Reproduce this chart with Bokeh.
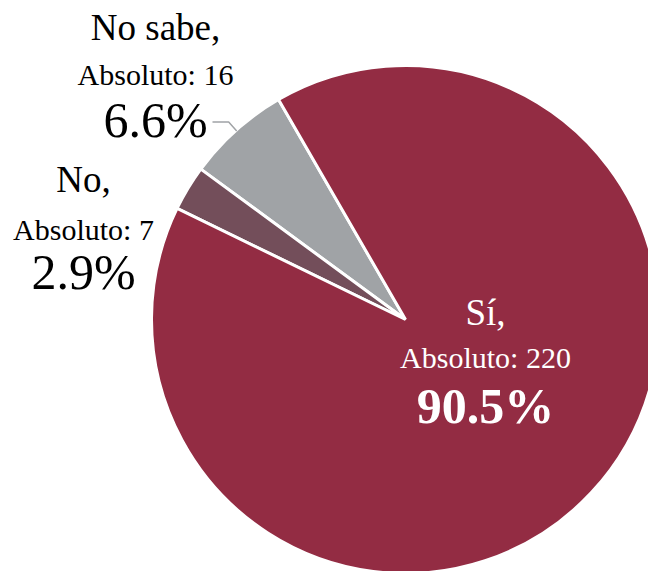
import numpy as np
from bokeh.plotting import figure
from bokeh.models import Range1d
from bokeh.embed import file_html
from bokeh.resources import INLINE
from bokeh.core.properties import value

# ---- data ----
categories = ["No sabe", "No", "Sí"]
counts = [16, 7, 220]
colors = ["#A0A3A6", "#734E5A", "#932C43"]
label_colors = ["#000000", "#000000", "#FFFFFF"]

W, H = 648, 571
FONT = "Liberation Serif"


def px(x):
    return x


def py(y):
    return H - y


total = sum(counts)
fracs = [c / total for c in counts]
start0 = np.deg2rad(120)
ends = start0 + 2 * np.pi * np.cumsum(fracs)
starts = np.concatenate([[start0], ends[:-1]])

cx, cy = px(405), py(319)
R = 254

p = figure(width=W, height=H, x_range=Range1d(0, W), y_range=Range1d(0, H),
           toolbar_location=None, output_backend="svg", min_border=0,
           x_axis_location=None, y_axis_location=None,
           outline_line_color=None, background_fill_color="white")
p.grid.visible = False

p.wedge(x=cx, y=cy, radius=R, start_angle=list(starts), end_angle=list(ends),
        fill_color=colors, line_color="white", line_width=3)

# leader line for "No sabe"
mid = (starts[0] + ends[0]) / 2
ex, ey = cx + (R - 1) * np.cos(mid), cy + (R - 1) * np.sin(mid)
bx, by = cx + 265 * np.cos(mid), cy + 265 * np.sin(mid)
p.line(x=[ex, bx, px(212)], y=[ey, by, by], line_color="#A0A3A6", line_width=1.5)

# label layout (page coordinates): x centre, baselines of text lines
label_x = [155, 83, 485]
label_y = [(37, 82, 133), (189, 237, 285), (322, 365, 419)]
sizes = (37, 30, 50)
SHIFT = 0.27

for i, cat in enumerate(categories):
    x = px(label_x[i])
    y1, y2, y3 = label_y[i]
    col = label_colors[i]
    pct = f"{100 * counts[i] / total:.1f}%"
    p.text(x=[x], y=[py(y1 - SHIFT * sizes[0])], text=[cat + ","], text_font=value(FONT),
           text_font_size=f"{sizes[0]}px", text_color=col, text_align="center",
           text_baseline="alphabetic")
    p.text(x=[x], y=[py(y2 - SHIFT * sizes[1])], text=[f"Absoluto: {counts[i]}"],
           text_font=value(FONT),
           text_font_size=f"{sizes[1]}px", text_color=col, text_align="center",
           text_baseline="alphabetic")
    bold = cat == "Sí"
    p.text(x=[x], y=[py(y3 - SHIFT * sizes[2])], text=[pct], text_font=value(FONT),
           text_font_size=f"{sizes[2]}px",
           text_font_style="bold" if bold else "normal",
           text_color=col, text_align="center", text_baseline="alphabetic")

open("out.html", "w").write(file_html(p, INLINE))
